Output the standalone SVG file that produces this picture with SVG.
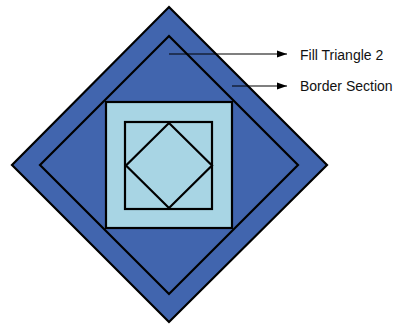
<svg xmlns="http://www.w3.org/2000/svg" width="400" height="324" viewBox="0 0 400 324">
<defs>
<style>
.sh{stroke:#000;stroke-width:2.2;stroke-linejoin:miter}
.dk{fill:#4165ae}
.lt{fill:#a8d5e4}
.ln{stroke:#000;stroke-width:1.2;fill:none}
.lb{font-family:"Liberation Sans",Arial,sans-serif;font-size:14px;fill:#111}
</style>
<marker id="ah" viewBox="0 0 10 10" refX="10" refY="5" markerWidth="10" markerHeight="10" markerUnits="userSpaceOnUse" orient="auto">
<path d="M0,1.5 L10,5 L0,8.5 Z" fill="#000"/>
</marker>
</defs>
<rect width="400" height="324" fill="#fff"/>
<g id="outer-diamond"><polygon class="sh dk" points="169,7 327,165 169,322 12,165"/></g>
<g id="inner-diamond"><polygon class="sh dk" points="169,36 298,165 169,294 40,165"/></g>
<g id="outer-square"><rect class="sh lt" x="106" y="102" width="126" height="126"/></g>
<g id="inner-square"><rect class="sh lt" x="125" y="122" width="87" height="87"/></g>
<g id="center-diamond"><polygon class="sh lt" points="169,123 212,165.5 169,208 126,165.5"/></g>
<g id="connectors">
<line class="ln" x1="169" y1="54" x2="287" y2="54" marker-end="url(#ah)"/>
<line class="ln" x1="232" y1="86" x2="287" y2="86" marker-end="url(#ah)"/>
</g>
<g id="label-fill"><text class="lb" x="300" y="60">Fill Triangle 2</text></g>
<g id="label-border"><text class="lb" x="300" y="91">Border Section</text></g>
</svg>
